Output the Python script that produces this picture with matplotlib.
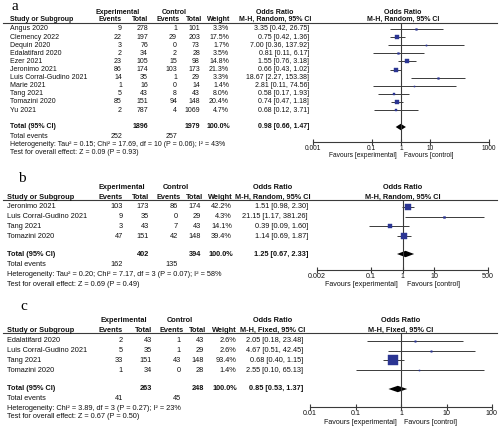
import matplotlib
matplotlib.use('Agg')
import matplotlib.pyplot as plt
from matplotlib.lines import Line2D

W, H = 500, 428

# ---- panel a data ----
aStudies = ['Angus 2020', 'Clemency 2022', 'Dequin 2020', 'Edalatifard 2020', 'Ezer 2021', 'Jeronimo 2021',
            'Luis Corral-Gudino 2021', 'Marie 2021', 'Tang 2021', 'Tomazini 2020', 'Yu 2021']
aExpEvents = [9, 22, 3, 2, 23, 86, 14, 1, 5, 85, 2]
aExpTotal = [278, 197, 76, 34, 105, 174, 35, 16, 43, 151, 787]
aCtrlEvents = [1, 29, 0, 2, 15, 103, 1, 0, 8, 94, 4]
aCtrlTotal = [101, 203, 73, 28, 98, 173, 29, 14, 43, 148, 1069]
aWeights = [3.3, 17.5, 1.7, 3.5, 14.8, 21.3, 3.3, 1.4, 8.0, 20.4, 4.7]
aOR = [3.35, 0.75, 7.00, 0.81, 1.55, 0.66, 18.67, 2.81, 0.58, 0.74, 0.68]
aLow = [0.42, 0.42, 0.36, 0.11, 0.76, 0.43, 2.27, 0.11, 0.17, 0.47, 0.12]
aHigh = [26.75, 1.36, 137.92, 6.17, 3.18, 1.02, 153.38, 74.56, 1.93, 1.18, 3.71]
aTotal = [1896, 1979, 0.98, 0.66, 1.47]
aTotalEvents = [252, 257]
aHet = 'Heterogeneity: Tau² = 0.15; Chi² = 17.69, df = 10 (P = 0.06); I² = 43%'
aTest = 'Test for overall effect: Z = 0.09 (P = 0.93)'
aTicks = [0.001, 0.1, 1, 10, 1000]
aTickLabels = ['0.001', '0.1', '1', '10', '1000']

# ---- panel b data ----
bStudies = ['Jeronimo 2021', 'Luis Corral-Gudino 2021', 'Tang 2021', 'Tomazini 2020']
bExpEvents = [103, 9, 3, 47]
bExpTotal = [173, 35, 43, 151]
bCtrlEvents = [86, 0, 7, 42]
bCtrlTotal = [174, 29, 43, 148]
bWeights = [42.2, 4.3, 14.1, 39.4]
bOR = [1.51, 21.15, 0.39, 1.14]
bLow = [0.98, 1.17, 0.09, 0.69]
bHigh = [2.30, 381.26, 1.60, 1.87]
bTotal = [402, 394, 1.25, 0.67, 2.33]
bTotalEvents = [162, 135]
bHet = 'Heterogeneity: Tau² = 0.20; Chi² = 7.17, df = 3 (P = 0.07); I² = 58%'
bTest = 'Test for overall effect: Z = 0.69 (P = 0.49)'
bTicks = [0.002, 0.1, 1, 10, 500]
bTickLabels = ['0.002', '0.1', '1', '10', '500']

# ---- panel c data ----
cStudies = ['Edalatifard 2020', 'Luis Corral-Gudino 2021', 'Tang 2021', 'Tomazini 2020']
cExpEvents = [2, 5, 33, 1]
cExpTotal = [43, 35, 151, 34]
cCtrlEvents = [1, 1, 43, 0]
cCtrlTotal = [43, 29, 148, 28]
cWeights = [2.6, 2.6, 93.4, 1.4]
cOR = [2.05, 4.67, 0.68, 2.55]
cLow = [0.18, 0.51, 0.40, 0.10]
cHigh = [23.48, 42.45, 1.15, 65.13]
cTotal = [263, 248, 0.85, 0.53, 1.37]
cTotalEvents = [41, 45]
cHet = 'Heterogeneity: Chi² = 3.89, df = 3 (P = 0.27); I² = 23%'
cTest = 'Test for overall effect: Z = 0.67 (P = 0.50)'
cTicks = [0.01, 0.1, 1, 10, 100]
cTickLabels = ['0.01', '0.1', '1', '10', '100']

SANS = 'Liberation Sans'
SQUARE = '#2b3593'
LINE = '#3a3a3a'


def fx(x):
  return x / W


def fy(y):
  return 1 - y / H


def put(fig, x, y, s, ha='left', size=5, bold=False):
  fig.text(fx(x), fy(y), s, ha=ha, va='center', fontsize=size, family=SANS,
           fontweight='bold' if bold else 'normal', color='#111111')


def drawPanel(fig, p):
  size = p['size']
  fig.text(fx(p['labelX']), fy(p['labelY']), p['label'], ha='left', va='center',
           fontsize=11, family='Liberation Serif')

  eEv, eTot, cEv, cTot, wCol, orCol = p['cols']

  # headers
  put(fig, p['expHead'], p['head1'], 'Experimental', 'center', size, True)
  put(fig, p['ctrlHead'], p['head1'], 'Control', 'center', size, True)
  put(fig, p['orHead'], p['head1'], 'Odds Ratio', 'center', size, True)
  put(fig, p['forestHead'], p['head1'], 'Odds Ratio', 'center', size, True)
  put(fig, p['studyX'], p['head2'], 'Study or Subgroup', 'left', size, True)
  put(fig, eEv, p['head2'], 'Events', 'right', size, True)
  put(fig, eTot, p['head2'], 'Total', 'right', size, True)
  put(fig, cEv + 3, p['head2'], 'Events', 'right', size, True)
  put(fig, cTot + 2, p['head2'], 'Total', 'right', size, True)
  put(fig, wCol + 1, p['head2'], 'Weight', 'right', size, True)
  put(fig, p['orHead'], p['head2'], p['method'], 'center', size, True)
  put(fig, p['forestHead'], p['head2'], p['method'], 'center', size, True)
  fig.add_artist(Line2D([fx(3), fx(497)], [fy(p['line']), fy(p['line'])], color=LINE, lw=0.8))

  # study rows
  rowsY = [p['row0'] + i * p['rowStep'] for i in range(len(p['studies']))]
  for i, y in enumerate(rowsY):
    put(fig, p['studyX'], y, p['studies'][i], 'left', size)
    put(fig, eEv, y, str(p['expEvents'][i]), 'right', size)
    put(fig, eTot, y, str(p['expTotal'][i]), 'right', size)
    put(fig, cEv, y, str(p['ctrlEvents'][i]), 'right', size)
    put(fig, cTot, y, str(p['ctrlTotal'][i]), 'right', size)
    put(fig, wCol, y, '%.1f%%' % p['weights'][i], 'right', size)
    put(fig, orCol, y, '%.2f [%.2f, %.2f]' % (p['orVals'][i], p['ciLow'][i], p['ciHigh'][i]), 'right', size)

  tExp, tCtrl, tOR, tLow, tHigh = p['total']
  put(fig, p['studyX'], p['totalY'], 'Total (95% CI)', 'left', size, True)
  put(fig, eTot, p['totalY'], str(tExp), 'right', size, True)
  put(fig, cTot, p['totalY'], str(tCtrl), 'right', size, True)
  put(fig, wCol + 1, p['totalY'], '100.0%', 'right', size, True)
  put(fig, orCol, p['totalY'], '%.2f [%.2f, %.2f]' % (tOR, tLow, tHigh), 'right', size, True)
  put(fig, p['studyX'], p['eventsY'], 'Total events', 'left', size)
  put(fig, eEv, p['eventsY'], str(p['totalEvents'][0]), 'right', size)
  put(fig, cEv, p['eventsY'], str(p['totalEvents'][1]), 'right', size)
  put(fig, p['studyX'], p['hetY'], p['het'], 'left', size)
  put(fig, p['studyX'], p['testY'], p['test'], 'left', size)

  # forest plot
  x0, x1 = p['forestX']
  ax = fig.add_axes([fx(x0), fy(p['axisY']), (x1 - x0) / W, (p['axisY'] - p['line']) / H])
  ax.set_xscale('log')
  ax.set_xlim(p['ticks'][0], p['ticks'][-1])
  ax.set_ylim(p['axisY'], p['line'])
  ax.patch.set_alpha(0)
  for side in ['top', 'right', 'left']:
    ax.spines[side].set_visible(False)
  ax.spines['bottom'].set_color(LINE)
  ax.spines['bottom'].set_linewidth(0.8)
  ax.set_yticks([])
  ax.set_xticks(p['ticks'])
  ax.set_xticklabels(p['tickLabels'])
  ax.minorticks_off()
  ax.tick_params(axis='x', direction='inout', length=4, width=0.8, color=LINE, pad=0.5,
                 labelsize=size - 0.2, labelcolor='#111111')
  for lab in ax.get_xticklabels():
    lab.set_family(SANS)
  ax.axvline(1, color=LINE, lw=0.8)

  for i, y in enumerate(rowsY):
    ax.plot([p['ciLow'][i], p['ciHigh'][i]], [y, y], color=LINE, lw=0.7, solid_capstyle='butt')
    side = 0.95 * p['weights'][i] ** 0.5 * 0.72
    ax.plot(p['orVals'][i], y, marker='s', ms=side, color=SQUARE, mec=SQUARE, mew=0.3)

  ty = p['totalY']
  ax.fill([tLow, tOR, tHigh, tOR], [ty, ty - 3.2, ty, ty + 3.2], color='black', lw=0)

  put(fig, p['favLeft'], p['favY'], 'Favours [experimental]', 'right', size - 0.2)
  put(fig, p['favRight'], p['favY'], 'Favours [control]', 'left', size - 0.2)


panels = [
  dict(label='a', labelX=12, labelY=6, size=5.0, method='M-H, Random, 95% CI',
       studies=aStudies, expEvents=aExpEvents, expTotal=aExpTotal, ctrlEvents=aCtrlEvents,
       ctrlTotal=aCtrlTotal, weights=aWeights, orVals=aOR, ciLow=aLow, ciHigh=aHigh,
       total=aTotal, totalEvents=aTotalEvents, het=aHet, test=aTest,
       ticks=aTicks, tickLabels=aTickLabels,
       head1=12, head2=19.5, line=23, row0=29, rowStep=8.1, totalY=127, eventsY=136, hetY=144,
       testY=152, axisY=142, favY=156, forestX=(313, 489), favLeft=397, favRight=404,
       studyX=10, cols=(122, 148, 177, 200, 229, 309), expHead=118, ctrlHead=174, orHead=275,
       forestHead=403),
  dict(label='b', labelX=18, labelY=178, size=5.3, method='M-H, Random, 95% CI',
       studies=bStudies, expEvents=bExpEvents, expTotal=bExpTotal, ctrlEvents=bCtrlEvents,
       ctrlTotal=bCtrlTotal, weights=bWeights, orVals=bOR, ciLow=bLow, ciHigh=bHigh,
       total=bTotal, totalEvents=bTotalEvents, het=bHet, test=bTest,
       ticks=bTicks, tickLabels=bTickLabels,
       head1=188, head2=197, line=200, row0=207, rowStep=9.7, totalY=254, eventsY=264, hetY=274,
       testY=284, axisY=270, favY=285, forestX=(317, 488), favLeft=398, favRight=407,
       studyX=7, cols=(123, 149, 178, 201, 232, 308), expHead=122, ctrlHead=176, orHead=273,
       forestHead=403),
  dict(label='c', labelX=20, labelY=306, size=5.3, method='M-H, Fixed, 95% CI',
       studies=cStudies, expEvents=cExpEvents, expTotal=cExpTotal, ctrlEvents=cCtrlEvents,
       ctrlTotal=cCtrlTotal, weights=cWeights, orVals=cOR, ciLow=cLow, ciHigh=cHigh,
       total=cTotal, totalEvents=cTotalEvents, het=cHet, test=cTest,
       ticks=cTicks, tickLabels=cTickLabels,
       head1=321, head2=330, line=333, row0=341, rowStep=9.7, totalY=389, eventsY=399, hetY=408,
       testY=417, axisY=407, favY=423, forestX=(310, 492), favLeft=397, favRight=404,
       studyX=7, cols=(123, 152, 181, 204, 236, 303), expHead=124, ctrlHead=180, orHead=273,
       forestHead=401),
]

fig = plt.figure(figsize=(W / 100, H / 100), dpi=100)
fig.patch.set_facecolor('white')
for panel in panels:
  drawPanel(fig, panel)

fig.savefig('out.png', dpi=100)
plt.close()
